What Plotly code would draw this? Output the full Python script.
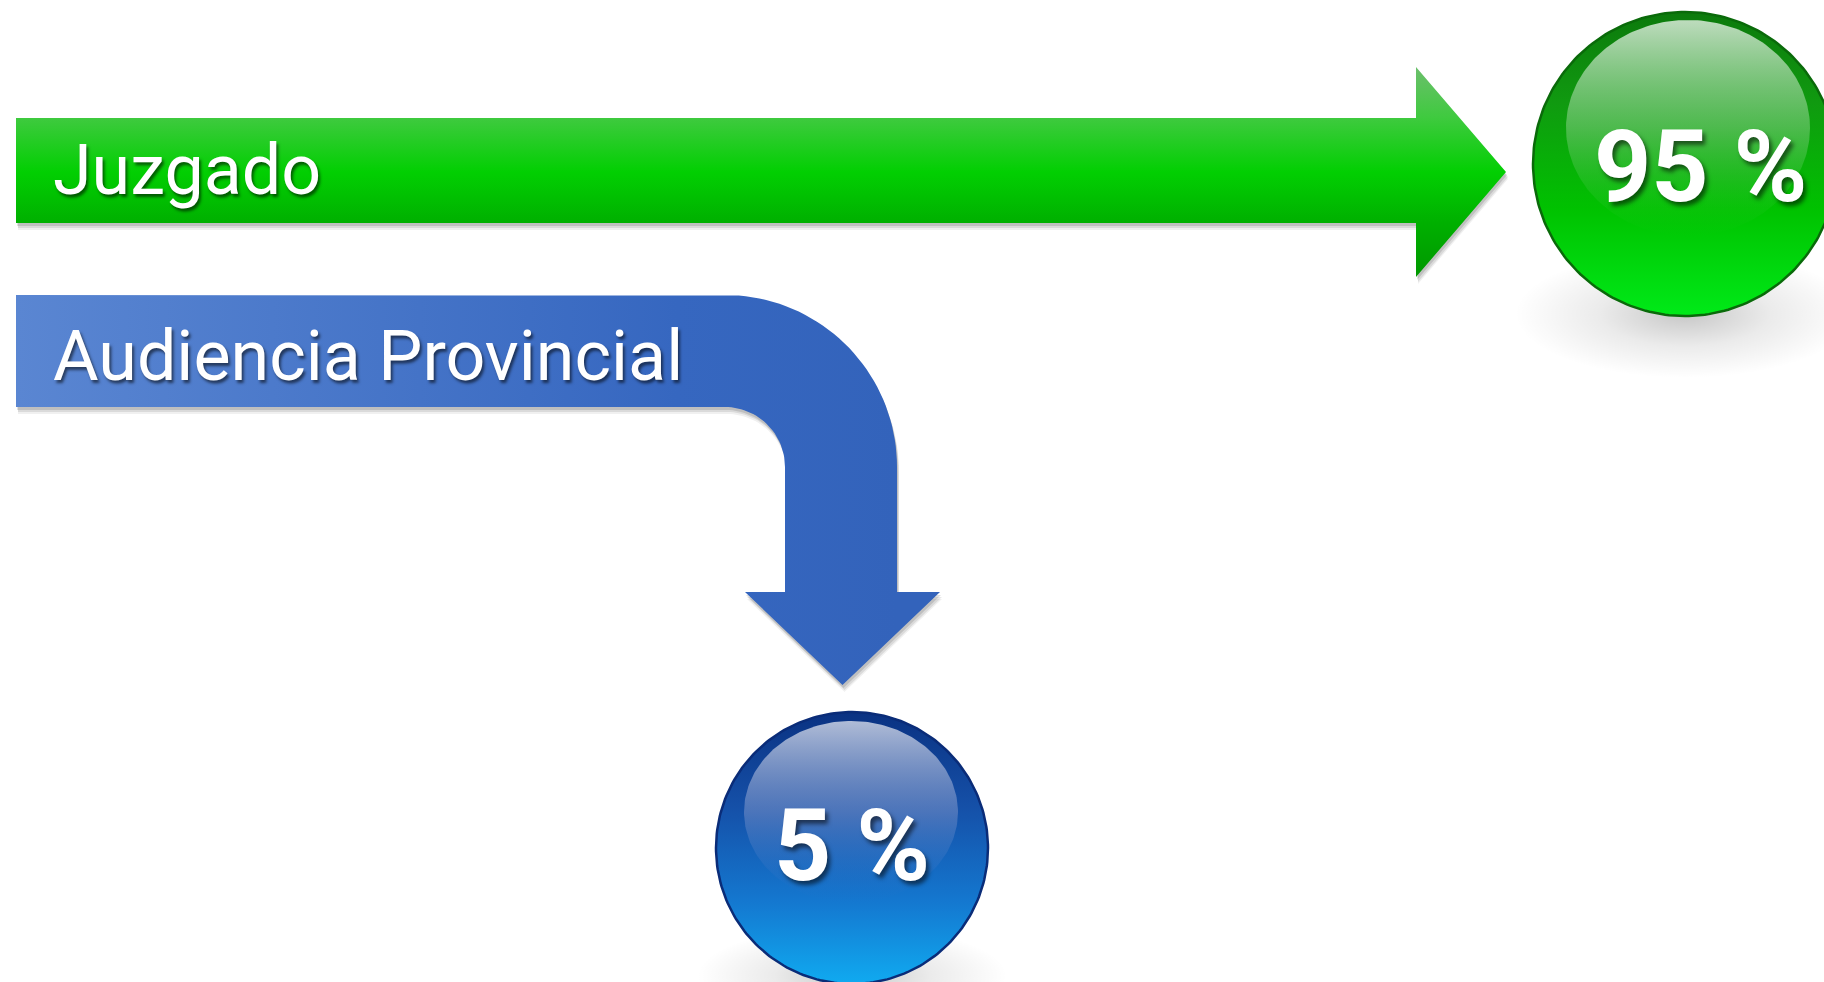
import numpy as np
import plotly.graph_objects as go

W, H = 1824, 982

# ---- data ----
labels = ["Juzgado", "Audiencia Provincial"]
shares = [95, 5]
value_text = [f"{v} %" for v in shares]

# ---- geometry (pixel space) ----
GREEN_BAR = dict(x0=16, x1=1416, y0=118, y1=223, head_y0=67, head_y1=277, tip=1506)
BLUE_BAND = dict(x0=16, y0=295, y1=407, arc_cx=725, arc_cy=467, r_in=60, r_out=172,
                 shaft_bottom=592, head_x0=745, head_x1=940, tip_y=685)
GREEN_CIRCLE = dict(cx=1685, cy=164, r=152, hl_cx=1688, hl_cy=128, hl_rx=122, hl_ry=108)
BLUE_CIRCLE = dict(cx=852, cy=848, r=136, hl_cx=851, hl_cy=812, hl_rx=107, hl_ry=91)

fig = go.Figure()


def poly(xs, ys, **kw):
    xs = list(xs) + [xs[0]]
    ys = list(ys) + [ys[0]]
    fig.add_trace(go.Scatter(x=xs, y=ys, mode="lines", fill="toself",
                             hoverinfo="skip", showlegend=False, **kw))


def ellipse(cx, cy, rx, ry, n=240):
    t = np.linspace(0, 2 * np.pi, n, endpoint=False)
    return cx + rx * np.cos(t), cy + ry * np.sin(t)


# ---- green arrow ----
g = GREEN_BAR
gx = [g["x0"], g["x1"], g["x1"], g["tip"], g["x1"], g["x1"], g["x0"]]
gy = [g["y0"], g["y0"], g["head_y0"], (g["head_y0"] + g["head_y1"]) / 2,
      g["head_y1"], g["y1"], g["y1"]]

# ---- blue bent arrow ----
b = BLUE_BAND
a_out = np.linspace(-np.pi / 2, 0, 40)
a_in = np.linspace(0, -np.pi / 2, 30)
bx = [b["x0"]] + list(b["arc_cx"] + b["r_out"] * np.cos(a_out))
by = [b["y0"]] + list(b["arc_cy"] + b["r_out"] * np.sin(a_out))
shaft_r = b["arc_cx"] + b["r_out"]
shaft_l = b["arc_cx"] + b["r_in"]
bx += [shaft_r, b["head_x1"], (b["head_x0"] + b["head_x1"]) / 2, b["head_x0"], shaft_l]
by += [b["shaft_bottom"], b["shaft_bottom"], b["tip_y"], b["shaft_bottom"], b["shaft_bottom"]]
bx += list(b["arc_cx"] + b["r_in"] * np.cos(a_in)) + [b["x0"]]
by += list(b["arc_cy"] + b["r_in"] * np.sin(a_in)) + [b["y1"]]

# drop shadows for arrows
for dx, dy, op in [(2, 7, 0.06), (2, 5, 0.09), (1, 3, 0.12)]:
    poly([x + dx for x in gx], [y + dy for y in gy],
         fillcolor=f"rgba(0,0,0,{op})", line=dict(width=0))
    poly([x + dx for x in bx], [y + dy for y in by],
         fillcolor=f"rgba(0,0,0,{op})", line=dict(width=0))

poly(gx, gy, line=dict(width=0),
     fillgradient=dict(type="vertical", start=g["head_y0"], stop=g["head_y1"],
                       colorscale=[[0, "#6cbf6c"], [0.24, "#3fca3f"], [0.5, "#02cf02"],
                                   [0.74, "#00b000"], [1, "#009800"]]))
poly(bx, by, line=dict(width=0),
     fillgradient=dict(type="horizontal", start=b["x0"], stop=shaft_r,
                       colorscale=[[0, "#5a86d2"], [0.75, "#3667c0"], [1, "#3363bb"]]))

# ---- glossy circles ----
def bubble(c, shadow, body_scale, rim, hl_scale):
    sx, sy = ellipse(*shadow)
    poly(sx, sy, line=dict(width=0),
         fillgradient=dict(type="radial",
                           colorscale=[[0, "rgba(0,0,0,0.22)"], [0.5, "rgba(0,0,0,0.08)"],
                                       [1, "rgba(0,0,0,0)"]]))
    cx_, cy_ = ellipse(c["cx"], c["cy"], c["r"], c["r"])
    poly(cx_, cy_, line=dict(width=2.5, color=rim),
         fillgradient=dict(type="vertical", start=c["cy"] - c["r"], stop=c["cy"] + c["r"],
                           colorscale=body_scale))
    hx, hy = ellipse(c["hl_cx"], c["hl_cy"], c["hl_rx"], c["hl_ry"])
    poly(hx, hy, line=dict(width=0),
         fillgradient=dict(type="vertical", start=c["hl_cy"] - c["hl_ry"],
                           stop=c["hl_cy"] + c["hl_ry"], colorscale=hl_scale))


gc = GREEN_CIRCLE
bubble(gc, (gc["cx"], gc["cy"] + 150, 170, 64),
       [[0, "#0c7a0c"], [0.3, "#109a10"], [0.65, "#00c200"], [1, "#00ea18"]],
       "#0a6a0a",
       [[0, "rgba(205,228,205,0.92)"], [0.5, "rgba(130,205,130,0.55)"],
        [1, "rgba(40,200,40,0)"]])

bc = BLUE_CIRCLE
bubble(bc, (bc["cx"], bc["cy"] + 128, 155, 50),
       [[0, "#0a3282"], [0.35, "#1550a8"], [0.7, "#1478d0"], [1, "#10aaf0"]],
       "#0a2c78",
       [[0, "rgba(190,200,222,0.92)"], [0.5, "rgba(120,145,200,0.55)"],
        [1, "rgba(40,110,200,0)"]])

# ---- text ----
shadow = "2px 3px 3px rgba(0,0,0,0.55)"
label_font = dict(family="Roboto, Liberation Sans, sans-serif", size=70, color="white",
                  shadow=shadow)
value_font = dict(family="Roboto, Liberation Sans, sans-serif", size=100,
                  color="white", weight="bold", shadow="3px 4px 4px rgba(0,0,0,0.55)")

fig.add_annotation(x=51, y=170, text=labels[0], showarrow=False, xanchor="left",
                   yanchor="middle", font=label_font)
fig.add_annotation(x=51, y=356, text=labels[1], showarrow=False, xanchor="left",
                   yanchor="middle", font=label_font)
fig.add_annotation(x=1701, y=166, text=value_text[0], showarrow=False, xanchor="center",
                   yanchor="middle", font=value_font)
fig.add_annotation(x=852, y=845, text=value_text[1], showarrow=False, xanchor="center",
                   yanchor="middle", font=value_font)

fig.update_layout(
    width=W, height=H, margin=dict(l=0, r=0, t=0, b=0, pad=0),
    paper_bgcolor="white", plot_bgcolor="white",
    xaxis=dict(range=[0, W], visible=False, fixedrange=True),
    yaxis=dict(range=[H, 0], visible=False, fixedrange=True),
    showlegend=False,
)

fig.write_html("out.html", config=dict(displayModeBar=False),
               post_script="document.body.style.margin='0px';document.body.style.overflow='hidden';")
